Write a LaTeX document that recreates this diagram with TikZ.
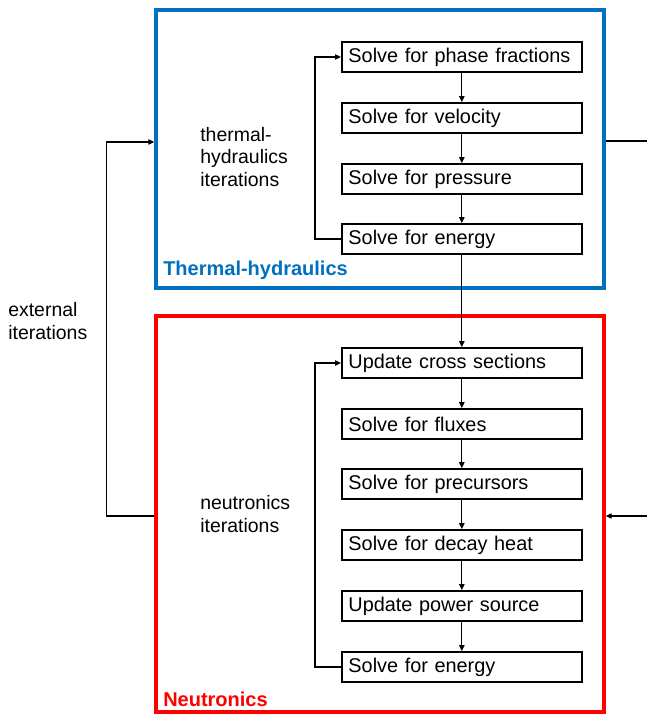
\documentclass[tikz,border=0pt]{standalone}
\usepackage{fontspec}
\setmainfont{Liberation Sans}
\usetikzlibrary{arrows.meta,positioning}
\definecolor{thblue}{RGB}{0,112,192}
\definecolor{ntred}{RGB}{255,0,0}
\tikzset{
  frame/.style={line width=2.6pt, minimum width=336pt, inner sep=0pt},
  stage/.style={draw=black, line width=1.2pt, anchor=west, minimum height=22.5pt,
    text width=170pt, inner xsep=5pt, align=left, font=\fontsize{14.9}{17}\selectfont},
  label/.style={anchor=west, align=left, inner sep=0pt, font=\fontsize{14.6}{17.2}\selectfont},
  title/.style={anchor=west, inner sep=0pt, font=\fontsize{15}{17}\selectfont\bfseries},
  flow/.style={-{Triangle[length=4.5pt,width=4pt]}, line width=0.9pt},
  link/.style={line width=0.9pt}
}

\begin{document}
\begin{tikzpicture}[x=0.75pt,y=-0.75pt]
\useasboundingbox (0,0) rectangle (647,714);

% Coupling frames
\node[frame, draw=thblue, minimum height=208.5pt] (thframe) at (380,149) {};
\node[frame, draw=ntred, minimum height=297pt] (ntframe) at (380,514) {};
\node[title, text=thblue] (thtitle) at (163,270) {Thermal-hydraulics};
\node[title, text=ntred] (nttitle) at (163,699) {Neutronics};

% Thermal-hydraulics steps
\node[stage] (phase) at (341,57) {Solve for phase fractions};
\node[stage] (vel) at (341,118) {Solve for velocity};
\node[stage] (pres) at (341,179) {Solve for pressure};
\node[stage] (thene) at (341,239) {Solve for energy};
\node[label] (thiter) at (200,157) {thermal-\\hydraulics\\iterations};

% Neutronics steps
\node[stage] (xs) at (341,363) {Update cross sections};
\node[stage] (flux) at (341,424) {Solve for fluxes};
\node[stage] (prec) at (341,484) {Solve for precursors};
\node[stage] (decay) at (341,545) {Solve for decay heat};
\node[stage] (power) at (341,606) {Update power source};
\node[stage] (ntene) at (341,667) {Solve for energy};
\node[label] (ntiter) at (200,514) {neutronics\\iterations};

% External loop
\node[label] (extiter) at (8,321) {external\\iterations};
\coordinate (thout) at (647,141);
\coordinate (ntin) at (647,516);

% Flow arrows
\draw[flow] (phase.south) -- (vel.north);
\draw[flow] (vel.south) -- (pres.north);
\draw[flow] (pres.south) -- (thene.north);
\draw[flow] (thene.west) -- ++(-26,0) |- (phase.west);
\draw[flow] (thene.south) -- (xs.north);
\draw[flow] (xs.south) -- (flux.north);
\draw[flow] (flux.south) -- (prec.north);
\draw[flow] (prec.south) -- (decay.north);
\draw[flow] (decay.south) -- (power.north);
\draw[flow] (power.south) -- (ntene.north);
\draw[flow] (ntene.west) -- ++(-26,0) |- (xs.west);
\draw[flow] ([yshift=-1.5pt]ntframe.west) -- ++(-48,0) |- ([yshift=5.25pt]thframe.west);
\draw[link] ([yshift=6pt]thframe.east) -- (thout);
\draw[flow] (ntin) -- (ntin -| ntframe.east);

\end{tikzpicture}
\end{document}
